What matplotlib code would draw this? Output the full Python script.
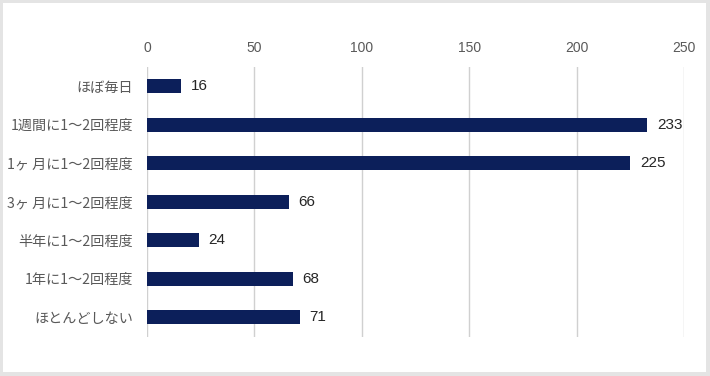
import matplotlib.pyplot as plt
from matplotlib.patches import Rectangle

plt.rcParams['font.family'] = ['Noto Sans CJK JP', 'DejaVu Sans']

# data
categories = ['ほぼ毎日', '1週間に1～2回程度', '1ヶ 月に1～2回程度', '3ヶ 月に1～2回程度',
              '半年に1～2回程度', '1年に1～2回程度', 'ほとんどしない']
values = [16, 233, 225, 66, 24, 68, 71]
xticks = [0, 50, 100, 150, 200, 250]

fig = plt.figure(figsize=(7.1, 3.76), dpi=100)
fig.patch.set_facecolor('#e4e4e4')
# white panel inside the grey frame
fig.patches.append(Rectangle((3 / 710, 4 / 376), 703 / 710, 369 / 376,
                             transform=fig.transFigure, facecolor='white',
                             edgecolor='none', zorder=-10))

ax = fig.add_axes([147 / 710, 1 - 336.5 / 376, 537 / 710, 269.5 / 376])
ax.set_zorder(1)
ax.set_facecolor('none')

y = list(range(len(categories)))
ax.barh(y, values, height=0.36, color='#0c1f5a', zorder=3)
for yi, v in zip(y, values):
    ax.text(v + 4.5, yi, str(v), va='center', ha='left', fontsize=11,
            color='#262626', family=['Liberation Sans'])

ax.set_yticks(y)
ax.set_yticklabels(categories, fontsize=10.2, color='#595959')
ax.set_ylim(len(categories) - 0.5, -0.5)

ax.set_xlim(0, 250)
ax.set_xticks(xticks)
ax.set_xticklabels([str(t) for t in xticks], fontsize=10, color='#595959',
                   family=['Liberation Sans'])
ax.xaxis.tick_top()
ax.tick_params(axis='both', length=0)
ax.tick_params(axis='x', pad=9)
ax.tick_params(axis='y', pad=10)
ax.grid(axis='x', color='#d0d0d0', linewidth=1, zorder=0)
for s in ax.spines.values():
    s.set_visible(False)

fig.savefig('out.png', dpi=100, facecolor=fig.get_facecolor())
